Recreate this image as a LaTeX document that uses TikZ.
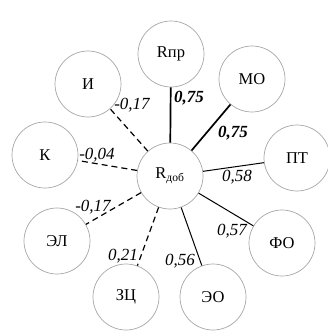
\documentclass[tikz,border=0pt]{standalone}
\usepackage{fontspec}
\setmainfont{Liberation Serif}
\usepackage{tikz}
\usetikzlibrary{arrows,arrows.meta}

\begin{document}
\begin{tikzpicture}[x=1pt,y=-1pt,
  factor/.style={draw=gray!70,line width=0.7pt,circle,minimum size=66pt,inner sep=0pt,
    font=\fontsize{16.5}{18}\selectfont},
  coef/.style={font=\itshape\fontsize{17}{19}\selectfont,inner sep=0pt},
  strong/.style={line width=1.7pt},
  weak/.style={line width=1pt},
  neg/.style={line width=1.2pt,dash pattern=on 6pt off 4pt}]
  \useasboundingbox (0,0) rectangle (327,331);
  % centre
  \node[factor] (rdob) at (170,176) {R\textsubscript{доб}};
  % outer factors
  \node[factor] (rpr) at (171,54) {Rпр};
  \node[factor] (i)   at (88,84)  {И};
  \node[factor] (mo)  at (252,79) {МО};
  \node[factor] (k)   at (45,155) {К};
  \node[factor] (pt)  at (297,158) {ПТ};
  \node[factor] (el)  at (57,241) {ЭЛ};
  \node[factor] (fo)  at (282,243) {ФО};
  \node[factor] (zc)  at (126,297) {ЗЦ};
  \node[factor] (eo)  at (213,297) {ЭО};
  % links
  \foreach \n/\s in {rpr/strong,mo/strong,pt/weak,fo/weak,eo/weak,i/neg,k/neg,el/neg,zc/neg} {
    \draw[\s] (rdob) -- (\n);
  }
  % coefficients
  \node[coef,font=\bfseries\itshape\fontsize{17}{19}\selectfont] (crpr) at (189,98) {0,75};
  \node[coef,font=\bfseries\itshape\fontsize{17}{19}\selectfont] (cmo) at (233,133) {0,75};
  \node[coef] (ci)  at (132,105) {-0,17};
  \node[coef] (ck)  at (97,155)  {-0,04};
  \node[coef] (cpt) at (237,177) {0,58};
  \node[coef] (cel) at (93,207)  {-0,17};
  \node[coef] (czc) at (123,256) {0,21};
  \node[coef] (ceo) at (180,261) {0,56};
  \node[coef] (cfo) at (232,231) {0,57};
\end{tikzpicture}
\end{document}
